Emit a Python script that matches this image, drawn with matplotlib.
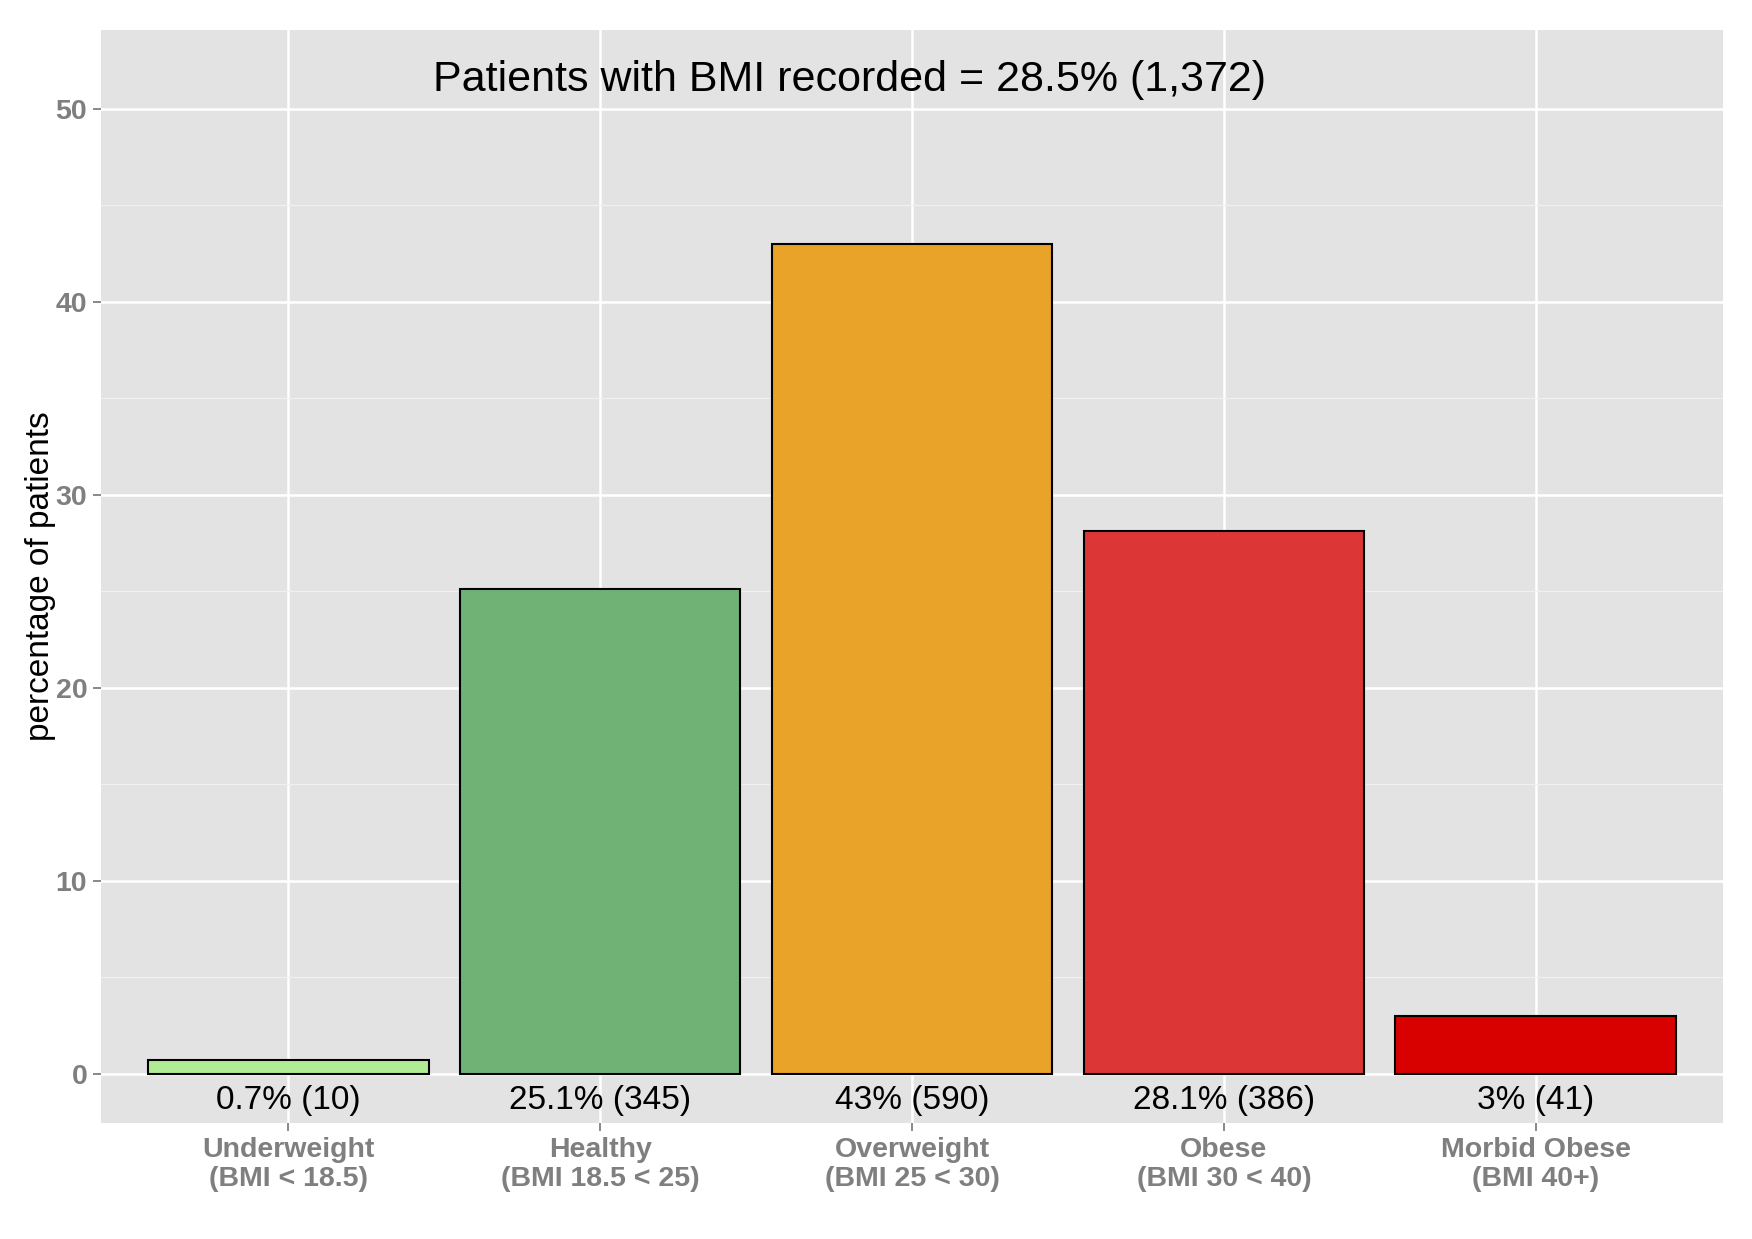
import numpy as np
from matplotlib import pyplot as plt

categories = ["Underweight\n(BMI < 18.5)", "Healthy\n(BMI 18.5 < 25)", "Overweight\n(BMI 25 < 30)",
              "Obese\n(BMI 30 < 40)", "Morbid Obese\n(BMI 40+)"]
percent = [0.7, 25.1, 43, 28.1, 3]
counts = [10, 345, 590, 386, 41]
colours = ["#B0EC93", "#70B276", "#E8A328", "#DD3637", "#D90000"]
y_ticks = [0, 10, 20, 30, 40, 50]
title_text = "Patients with BMI recorded = 28.5% (1,372)"

plt.rcParams['font.family'] = ['Liberation Sans', 'DejaVu Sans']

fig = plt.figure(figsize=(17.52, 12.39), dpi=100)
ax = fig.add_axes([0.0577, 0.0936, 0.9257, 0.8822])
ax.set_facecolor("#E3E3E3")

x = np.arange(1, len(categories) + 1)
ax.bar(x, percent, width=0.9, color=colours, edgecolor="black", linewidth=1.5, zorder=3)

for xi, p, n in zip(x, percent, counts):
    ax.text(xi, -1.4, f"{p:g}% ({n})", ha="center", va="center", fontsize=24, zorder=4)

ax.text(2.8, 51.5, title_text, ha="center", va="center", fontsize=31, zorder=4)

ax.set_xlim(0.4, 5.6)
ax.set_ylim(-2.56, 54.07)
ax.set_xticks(x)
ax.set_xticklabels(categories, fontsize=20.5, fontweight="bold", color="#7F7F7F", linespacing=1.15)
ax.set_yticks(y_ticks)
ax.set_yticklabels([str(t) for t in y_ticks], fontsize=20.5, fontweight="bold", color="#7F7F7F")
ax.set_yticks(np.arange(5, 55, 10), minor=True)
ax.tick_params(axis="both", which="major", length=6, width=1.3, color="#7F7F7F", pad=4)
ax.tick_params(axis="both", which="minor", length=0)
ax.grid(which="major", color="white", linewidth=1.8, zorder=0)
ax.grid(which="minor", axis="y", color="#F0F0F0", linewidth=0.9, zorder=0)
ax.set_axisbelow(True)
for s in ax.spines.values():
    s.set_visible(False)

ax.set_ylabel("percentage of patients", fontsize=24, va="center")
ax.yaxis.set_label_coords(-0.0376, 0.5)

fig.savefig("out.png", dpi=100)
